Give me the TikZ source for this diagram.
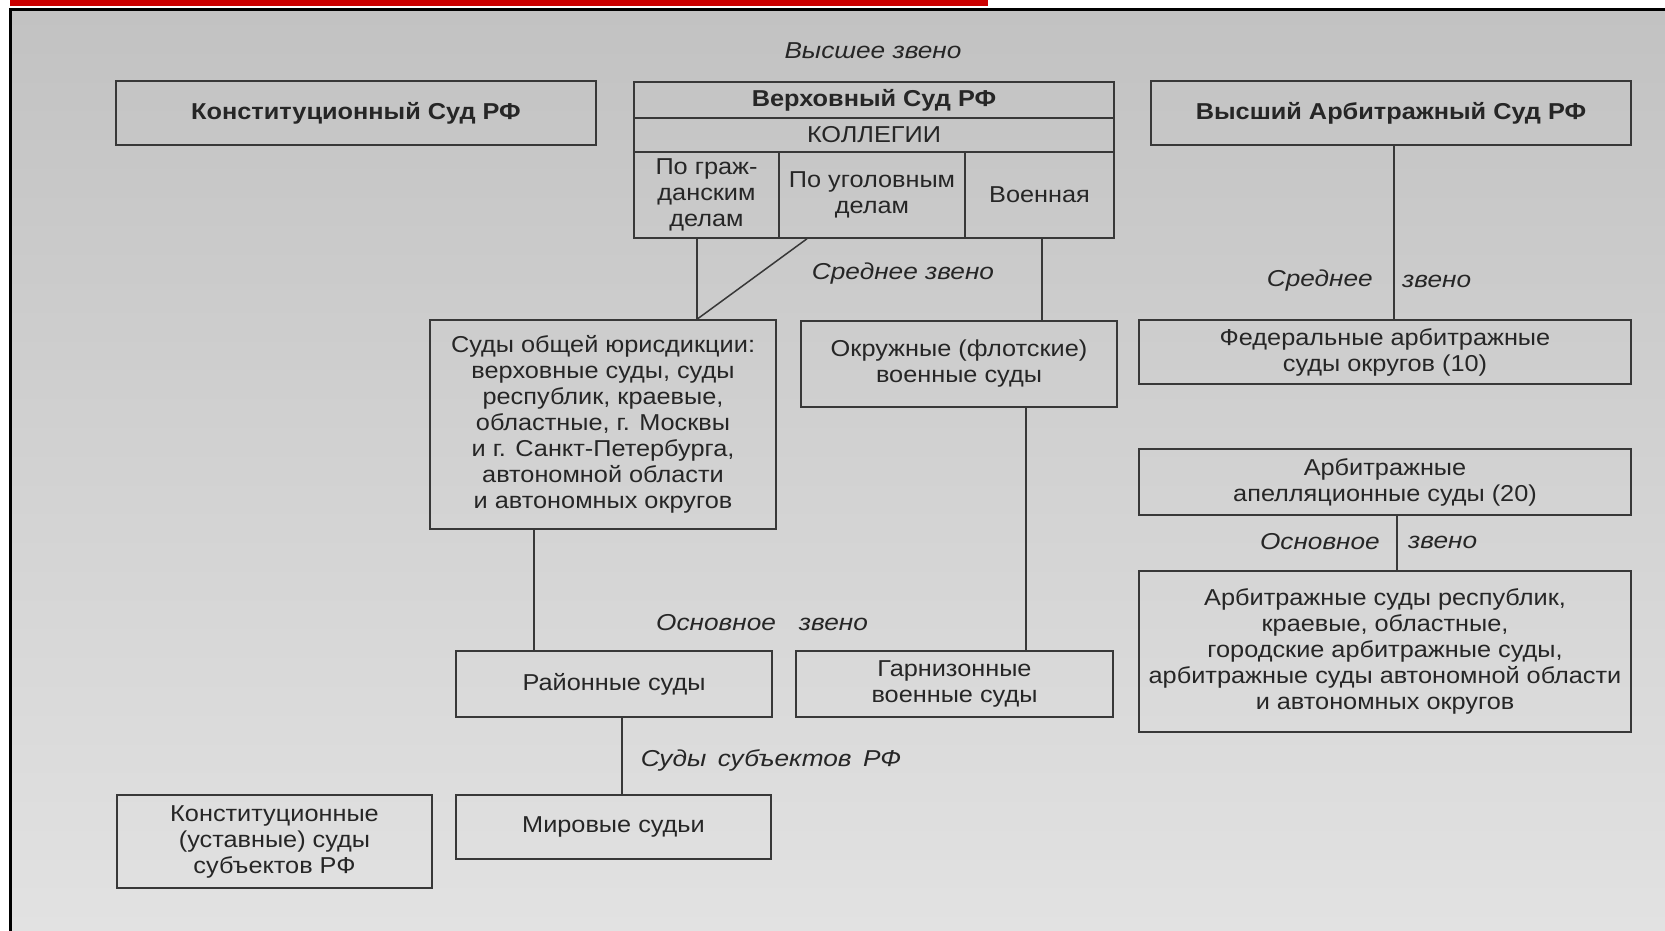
\documentclass[tikz,border=0pt]{standalone}
\usepackage{xcolor}
\usepackage{fontspec}
\setmainfont[FakeStretch=1.1]{Liberation Sans}
\newfontfamily\zvenofont[FakeStretch=1.14]{Liberation Sans}
\usepackage{tikz}
\usetikzlibrary{calc}
\definecolor{ink}{HTML}{262626}
\definecolor{wire}{HTML}{383838}
\definecolor{scantop}{HTML}{C2C2C2}
\definecolor{scanbot}{HTML}{E2E2E2}
\definecolor{slidered}{HTML}{CC0000}
\newcommand{\courtfont}{\fontsize{23}{26}\selectfont}

\begin{document}
\begin{tikzpicture}[
    x=1pt, y=-1pt,
    box/.style={rectangle, draw=wire, line width=1.5pt, inner sep=2pt, align=center, text=ink, font=\courtfont},
    head/.style={box, font=\courtfont\bfseries},
    zveno/.style={text=ink, inner sep=0pt, font=\zvenofont\fontsize{23}{26}\selectfont\itshape},
    link/.style={draw=wire, line width=1.5pt},
]
\useasboundingbox (0,0) rectangle (1665,931);

% scanned page
\shade[top color=scantop, bottom color=scanbot] (10,10) rectangle (1665,931);
\draw[line width=3pt] (10,931) -- (10,10) -- (1665,10);
\fill[slidered] (10,0) rectangle (988,6);

% upper level
\node[zveno] (top) at (873,51) {Высшее звено};
\node[head, minimum width=480, minimum height=64] (ks) at (356,113) {Конституционный Суд РФ};
\node[head, minimum width=480, minimum height=36] (vs) at (874,100) {Верховный Суд РФ};
\node[box, minimum width=480, minimum height=34] (kol) at (874,135) {КОЛЛЕГИИ};
\node[box, minimum width=145, minimum height=86] (civ) at (706.5,195) {По граж-\\данским\\делам};
\node[box, minimum width=186, minimum height=86] (crim) at (872,195) {По уголовным\\делам};
\node[box, minimum width=149, minimum height=86] (mil) at (1039.5,195) {Военная};
\node[head, minimum width=480, minimum height=64] (vas) at (1391,113) {Высший Арбитражный Суд РФ};

% middle level
\node[zveno] (mid) at (903,274) {Среднее звено};
\node[box, minimum width=346, minimum height=209] (gen) at (603,424.5) {Суды общей юрисдикции:\\верховные суды, суды\\республик, краевые,\\областные, г. Москвы\\и г. Санкт-Петербурга,\\автономной области\\и автономных округов};
\node[box, minimum width=316, minimum height=86] (okr) at (959,364) {Окружные (флотские)\\военные суды};
\node[box, minimum width=492, minimum height=64] (fed) at (1385,352) {Федеральные арбитражные\\суды округов (10)};
\node[zveno, anchor=east] (midA) at (1373,281) {Среднее};
\node[zveno, anchor=west] (midB) at (1402,281) {звено};
\node[box, minimum width=492, minimum height=66] (appl) at (1385,482) {Арбитражные\\апелляционные суды (20)};

% basic level
\node[zveno, anchor=east] (baseA) at (1380,542) {Основное};
\node[zveno, anchor=west] (baseB) at (1408,542) {звено};
\node[box, minimum width=492, minimum height=161] (arb) at (1385,651.5) {Арбитражные суды республик,\\краевые, областные,\\городские арбитражные суды,\\арбитражные суды автономной области\\и автономных округов};
\node[zveno] (base) at (762,623) {Основное\quad звено};
\node[box, minimum width=316, minimum height=66] (ray) at (614,684) {Районные суды};
\node[box, minimum width=317, minimum height=66] (garn) at (954.5,684) {Гарнизонные\\военные суды};

% courts of the subjects
\node[zveno] (subj) at (771,760) {Суды\enspace субъектов\enspace РФ};
\node[box, minimum width=315, minimum height=64] (mir) at (613.5,827) {Мировые судьи};
\node[box, minimum width=315, minimum height=93] (ksub) at (274.5,841.5) {Конституционные\\(уставные) суды\\субъектов РФ};

% connectors
\draw[link] ([xshift=-9.5]civ.south) -- ([xshift=-9.5]civ.south |- gen.north);
\draw[link] ([xshift=-65]crim.south) -- ([xshift=-9.5]civ.south |- gen.north);
\draw[link] ([xshift=2.5]mil.south) -- ([xshift=2.5]mil.south |- okr.north);
\draw[link] ([xshift=3]vas.south) -- ([xshift=3]vas.south |- fed.north);
\draw[link] ([xshift=12]appl.south) -- ([xshift=12]appl.south |- arb.north);
\draw[link] ([xshift=-69]gen.south) -- ([xshift=-69]gen.south |- ray.north);
\draw[link] ([xshift=67]okr.south) -- ([xshift=67]okr.south |- garn.north);
\draw[link] ([xshift=8]ray.south) -- ([xshift=8]ray.south |- mir.north);

\end{tikzpicture}
\end{document}
